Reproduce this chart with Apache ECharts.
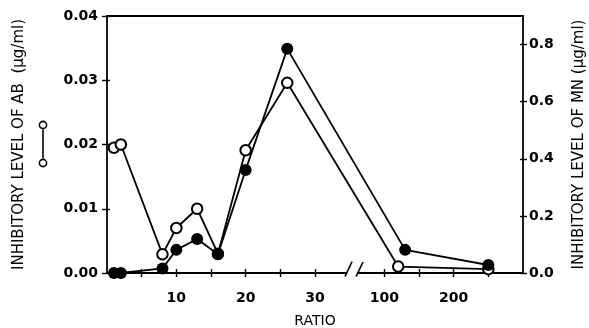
<!DOCTYPE html>
<html><head><meta charset="utf-8">
<script src="https://cdn.jsdelivr.net/npm/echarts@6/dist/echarts.min.js"></script>
<style>html,body{margin:0;padding:0;background:#fff}#c{width:589px;height:328px}</style>
</head><body><div id="c"></div>
<script>
// ---- data ----
const abRatio = [1, 2, 8, 10, 13, 16, 20, 26, 120, 250];
const abValue = [0.0195, 0.0200, 0.0029, 0.0070, 0.0100, 0.0030, 0.0191, 0.0296, 0.0010, 0.0006];
const mnRatio = [1, 2, 8, 10, 13, 16, 20, 26, 130, 250];
const mnValue = [0.000, 0.000, 0.016, 0.081, 0.119, 0.066, 0.361, 0.785, 0.081, 0.028];
const xLabelValues = [10, 20, 30, 100, 200];
const xTickValues = [5, 10, 15, 20, 25, 30, 100, 150, 200, 250];
const leftTicks = [0, 0.01, 0.02, 0.03, 0.04];
const rightTicks = [0, 0.2, 0.4, 0.6, 0.8];

// broken axis: linear up to 35, then compressed 10x from 50 on
const BREAK = 35, RESUME = 50, SHRINK = 10, XMAX = 300;
function fwd(r) { return r <= BREAK ? r : BREAK + (r - RESUME) / SHRINK; }
function inv(t) { return t <= BREAK ? t : RESUME + (t - BREAK) * SHRINK; }

const FONT = 'DejaVu Sans';
const BLACK = '#000';
const lineS = { color: BLACK, width: 1.8 };
const tickS = { color: BLACK, width: 1.4 };

const chart = echarts.init(document.getElementById('c'), null, { renderer: 'canvas' });

const xCommon = { type: 'value', min: 0, max: fwd(XMAX), splitLine: { show: false } };
const option = {
  animation: false,
  backgroundColor: '#fff',
  grid: { left: 107, right: 66, top: 16, bottom: 55, containLabel: false, outerBoundsMode: 'none' },
  xAxis: [
    Object.assign({}, xCommon, {
      position: 'bottom',
      axisLine: { show: true, onZero: false, lineStyle: lineS },
      axisTick: { show: true, inside: false, length: 4, customValues: xTickValues.map(fwd), lineStyle: tickS },
      axisLabel: { show: true, customValues: xLabelValues.map(fwd), formatter: v => String(Math.round(inv(v))),
        margin: 18, color: BLACK, fontFamily: FONT, fontWeight: 'bold', fontSize: 14 },
      name: 'RATIO', nameLocation: 'middle', nameGap: 41,
      nameTextStyle: { color: BLACK, fontFamily: FONT, fontSize: 14 }
    }),
    Object.assign({}, xCommon, {
      position: 'top',
      axisLine: { show: true, onZero: false, lineStyle: lineS },
      axisTick: { show: false }, axisLabel: { show: false }
    }),
    Object.assign({}, xCommon, {
      position: 'bottom',
      axisLine: { show: false, onZero: false },
      axisTick: { show: true, inside: true, length: 4, customValues: xTickValues.map(fwd), lineStyle: tickS },
      axisLabel: { show: false }
    })
  ],
  yAxis: [
    {
      type: 'value', position: 'left', min: 0, max: 0.04, interval: 0.01,
      splitLine: { show: false },
      axisLine: { show: true, onZero: false, lineStyle: lineS },
      axisTick: { show: true, length: 5, customValues: leftTicks, lineStyle: tickS },
      axisLabel: { customValues: leftTicks, formatter: v => v.toFixed(2), margin: 9, color: BLACK,
        fontFamily: FONT, fontWeight: 'bold', fontSize: 14 },
      name: 'INHIBITORY LEVEL OF AB  (\u03bcg/ml)', nameLocation: 'middle', nameGap: 80, nameRotate: 90,
      nameTextStyle: { color: BLACK, fontFamily: FONT, fontSize: 15 }
    },
    {
      type: 'value', position: 'right', min: 0, max: 0.9,
      splitLine: { show: false },
      axisLine: { show: true, onZero: false, lineStyle: lineS },
      axisTick: { show: true, length: 4, customValues: rightTicks, lineStyle: tickS },
      axisLabel: { customValues: rightTicks, formatter: v => v.toFixed(1), margin: 6, color: BLACK,
        fontFamily: FONT, fontWeight: 'bold', fontSize: 14 },
      name: 'INHIBITORY LEVEL OF MN (\u03bcg/ml)', nameLocation: 'middle', nameGap: 49, nameRotate: 90,
      nameTextStyle: { color: BLACK, fontFamily: FONT, fontSize: 15 }
    },
    {
      type: 'value', position: 'left', min: 0, max: 0.04, splitLine: { show: false },
      axisLine: { show: false, onZero: false },
      axisTick: { show: true, inside: true, length: 3, customValues: leftTicks, lineStyle: tickS },
      axisLabel: { show: false }
    },
    {
      type: 'value', position: 'right', min: 0, max: 0.9, splitLine: { show: false },
      axisLine: { show: false, onZero: false },
      axisTick: { show: true, inside: true, length: 3, customValues: rightTicks, lineStyle: tickS },
      axisLabel: { show: false }
    }
  ],
  series: [
    {
      name: 'AB', type: 'line', xAxisIndex: 0, yAxisIndex: 0, z: 3,
      data: abRatio.map((r, i) => [fwd(r), abValue[i]]),
      symbol: 'circle', symbolSize: 10.5, showSymbol: true,
      lineStyle: { color: BLACK, width: 1.8 },
      itemStyle: { color: '#fff', borderColor: BLACK, borderWidth: 2 }
    },
    {
      name: 'MN', type: 'line', xAxisIndex: 0, yAxisIndex: 1, z: 4,
      data: mnRatio.map((r, i) => [fwd(r), mnValue[i]]),
      symbol: 'circle', symbolSize: 12, showSymbol: true,
      lineStyle: { color: BLACK, width: 1.8 },
      itemStyle: { color: BLACK, borderColor: BLACK, borderWidth: 0 }
    }
  ]
};
chart.setOption(option);

// axis break marks "//" and the AB legend glyph
const bx = chart.convertToPixel({ xAxisIndex: 0 }, BREAK + 0.2);
const by = chart.convertToPixel({ yAxisIndex: 0 }, 0);
chart.setOption({
  graphic: [
    { type: 'rect', z: 100, shape: { x: bx - 5, y: by - 3, width: 11, height: 6 }, style: { fill: '#fff' } },
    { type: 'line', z: 101, shape: { x1: bx - 6, y1: by + 3.5, x2: bx + 1, y2: by - 11.5 }, style: { stroke: BLACK, lineWidth: 1.7 } },
    { type: 'line', z: 101, shape: { x1: bx + 5, y1: by + 3.5, x2: bx + 12, y2: by - 11 }, style: { stroke: BLACK, lineWidth: 1.7 } },
    { type: 'circle', z: 101, shape: { cx: 43, cy: 125, r: 3.6 }, style: { fill: '#fff', stroke: BLACK, lineWidth: 1.6 } },
    { type: 'line', z: 101, shape: { x1: 43, y1: 129.5, x2: 43, y2: 158.5 }, style: { stroke: BLACK, lineWidth: 1.6 } },
    { type: 'circle', z: 101, shape: { cx: 43, cy: 163, r: 3.6 }, style: { fill: '#fff', stroke: BLACK, lineWidth: 1.6 } }
  ]
});
</script>
</body></html>
